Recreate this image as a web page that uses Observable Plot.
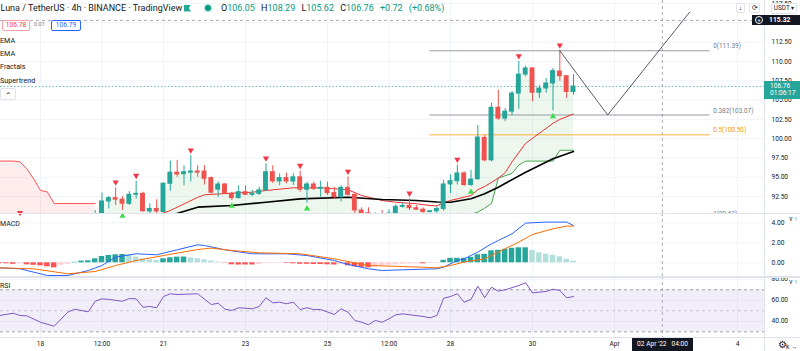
<!DOCTYPE html>
<html><head><meta charset="utf-8">
<script src="https://cdn.jsdelivr.net/npm/d3@7"></script>
<script src="https://cdn.jsdelivr.net/npm/@observablehq/plot@0.6"></script>
<style>
html,body{margin:0;padding:0;background:#fff;overflow:hidden}
#wrap{position:relative;width:800px;height:351px;overflow:hidden;font-family:Roboto,"Noto Sans",sans-serif;color:#131722}
.ov{position:absolute;white-space:nowrap;line-height:1}
.ln{position:absolute;background:#e0e3eb}
</style></head>
<body><div id="wrap"></div>
<script>
// ---------------- DATA ----------------
const candleFirstBar = 8; // bar index (4h bars, 0 = 18 Mar 00:00)
const opens  = [90.0,90.2,91.87,92.3,92.1,91.57,92.73,92.86,90.57,90.9,90.5,94.16,95.6,95.4,95.6,95.75,95.75,94.9,93.4,94.07,92.86,92.3,93.07,92.73,92.86,93.3,95.66,94.46,94.9,94.46,95.0,93.4,94.07,93.5,93.64,92.95,92.43,93.64,92.73,90.7,90.35,90.1,90.25,90.1,90.3,91.17,91.3,91.0,90.8,90.5,90.6,90.9,94.07,94.5,95.5,94.0,94.75,100.1,97.2,104.0,102.6,103.5,105.85,108.3,109.1,105.95,106.5,107.15,108.7,108.1,106.05];
const highs  = [90.7,92.95,92.5,93.64,92.5,93.15,94.5,93.07,91.57,92.08,94.3,97.1,97.2,96.5,97.8,96.5,96.5,95.05,94.4,94.16,93.07,93.9,93.9,93.3,93.72,96.75,96.5,95.45,95.53,95.45,95.8,94.37,94.37,94.5,94.37,93.72,93.9,95.04,92.8,91.05,91.05,90.4,90.7,90.8,91.48,91.65,92.2,91.35,91.05,90.7,91.17,94.6,95.3,96.6,95.7,95.9,101.7,100.4,104.6,106.3,103.9,106.1,110.0,109.4,109.2,106.9,107.8,109.1,111.39,108.1,108.29];
const lows   = [89.6,89.9,90.9,91.35,90.7,91.35,92.2,90.48,90.0,90.27,90.4,93.2,95.0,93.9,94.4,95.0,94.0,92.86,92.4,92.77,92.0,92.2,92.64,92.5,92.64,93.2,94.2,93.9,94.16,93.94,93.07,91.65,93.29,92.42,92.64,92.21,91.8,92.56,90.27,90.0,89.9,89.9,89.9,89.95,90.0,91.0,90.7,90.7,90.35,90.4,90.35,90.6,92.9,94.0,93.8,93.8,94.6,97.0,97.0,102.4,102.2,103.0,103.8,108.0,104.8,105.2,105.9,103.6,107.45,105.2,105.62];
const closes = [90.2,91.87,92.3,92.1,91.57,92.73,92.86,90.6,90.9,90.57,94.16,95.6,95.36,95.66,95.75,95.6,94.8,93.0,94.07,92.86,92.3,93.07,92.73,92.86,93.3,95.66,94.46,94.9,94.46,95.0,93.4,94.07,93.5,93.64,92.95,92.43,93.64,92.73,90.7,90.35,90.1,90.2,90.1,90.3,91.17,91.3,91.0,90.8,90.5,90.6,90.9,94.07,94.5,95.5,94.0,94.7,100.15,97.2,104.0,102.6,103.5,105.85,108.3,109.1,105.95,106.5,107.15,108.75,108.1,106.05,106.76];

const emaFastBars = [12,17,19,21,23,24,28,31,33,37,41,45,47,50,52,55,57,58,59,60,63,64,65,67,68,69,71,73,75,76,78];
const emaFastVals = [88.9,90.05,90.7,91.55,92.4,92.73,92.94,93.07,93.29,93.64,93.64,93.38,92.64,91.99,91.77,91.57,91.35,91.3,91.7,92.0,92.64,93.4,93.8,94.9,95.6,97.0,99.4,100.7,102.0,102.5,103.2];
const emaSlowBars = [13,19,23,28,33,38,45,50,55,58,60,63,65,67,71,75,78];
const emaSlowVals = [89.3,90.05,91.13,91.35,91.77,92.21,92.42,92.12,91.99,91.8,91.77,92.21,92.86,93.72,95.66,97.4,98.34];

const stDownBars = [-6,-5,-4,-3,-2,-1,0,1,2,3,4,5,6,7,8];
const stDownVals = [97.1,97.1,97.1,97.0,96.1,94.8,93.3,93.1,91.6,91.6,91.6,91.6,91.6,91.6,91.6];
const stUpBars = [63,64,65,66,67,68,69,70,71,72,73,74,75,76,77,78];
const stUpVals = [90.2,90.5,91.0,91.6,94.9,95.2,95.5,96.6,97.1,97.1,97.1,97.1,97.1,98.5,98.5,98.5];

const fractalDownBars  = [-3,11,14,22,33,38,45,54,61,70,76];
const fractalDownHighs = [89.7,93.64,94.5,97.8,96.75,95.8,95.04,92.2,96.6,110.0,111.39];
const fractalUpBars = [12,28,39,63,75];
const fractalUpLows = [90.7,92.0,91.65,93.8,103.6];

const fibLevels = [0, 0.382, 0.5, 1];
const fibPrices = [111.39, 103.07, 100.50, 90.62];
const fibStartBar = 57, fibEndBar = 98;

const pathBars = [76, 83, 95];
const pathPrices = [111.39, 103.07, 116.4];

const lastPrice = 106.76, crossPrice = 115.32, crossBar = 91;
const priceTicks = [92.5,95,97.5,100,102.5,105,107.5,110,112.5,115,117.5];
const priceLabelsCovered = [115]; // tick label hidden under the crosshair price tag

const macdHistFirstBar = -6;
const macdHist = [-0.1,-0.1,-0.15,-0.1,-0.2,-0.25,-0.3,-0.4,-0.5,-0.25,-0.15,0.05,0.17,0.2,0.4,0.63,0.73,0.8,0.83,0.8,0.57,0.4,0.3,0.23,0.4,0.5,0.57,0.58,0.5,0.4,0.3,0.17,0.07,-0.03,-0.2,-0.22,-0.22,-0.22,-0.18,-0.08,-0.06,-0.05,-0.06,-0.1,-0.15,-0.15,-0.17,-0.17,-0.2,-0.22,-0.18,-0.3,-0.4,-0.45,-0.5,-0.4,-0.32,-0.25,-0.2,-0.15,-0.12,-0.1,-0.1,-0.07,-0.04,0.25,0.45,0.45,0.45,0.55,0.8,0.85,1.2,1.25,1.35,1.45,1.5,1.5,1.25,1.0,0.85,0.75,0.6,0.35,0.15];
const macdBars = [-6,-3,1,4,7,9,11,14,17,20,23,24,27,31,36,39,43,45,48,50,53,58,59,61,62,64,66,67,69,71,74,77,78];
const macdVals = [-0.5,-0.6,-1.27,-1.27,-0.77,-0.27,0.57,0.9,0.8,1.3,1.8,1.73,1.3,0.9,0.9,0.73,0.23,-0.17,-0.6,-0.77,-0.7,-0.6,-0.43,0.23,0.4,1.07,1.9,2.23,2.9,3.97,4.07,4.07,3.73];
const signalBars = [-6,-1,4,8,11,14,18,23,25,28,32,38,43,48,53,58,60,62,65,67,70,72,75,77,78];
const signalVals = [-0.5,-0.6,-1.1,-0.87,-0.27,0.23,0.73,1.33,1.47,1.23,1.0,0.9,0.4,-0.27,-0.37,-0.5,-0.27,0.07,0.4,1.07,2.07,2.83,3.4,3.67,3.67];
const macdTicks = [0, 2, 4];

const rsiBars = [-6,-4,-3,-2,0,2,4,5,7,8,9,10,12,13,14,15,16,17,18,19,20,23,25,26,27,28,29,31,32,33,34,35,36,37,38,39,40,41,43,44,45,46,47,48,49,50,51,52,53,56,57,58,59,60,61,62,63,64,65,66,67,68,70,71,72,74,75,76,77,78];
const rsiVals = [45.5,47.7,45.5,45.2,39.1,35.3,48.7,51.5,49.0,59.1,61.4,60.8,59.1,61.7,61.4,53.4,54.1,52.9,63.6,66.2,65.5,66.2,56.0,57.2,51.5,50.3,52.9,51.9,54.1,62.4,57.6,58.2,56.7,58.2,51.2,52.9,51.2,51.2,46.5,51.9,48.7,40.8,39.1,36.7,40.8,39.1,42.4,46.2,47.1,44.6,43.3,45.5,62.0,63.6,66.2,58.2,60.8,73.4,62.4,72.5,68.7,70.0,74.1,76.7,67.1,68.4,70.6,69.3,62.4,63.6];
const rsiTicks = [40, 60, 80];
const rsiBands = [70, 50, 30];

const timeTickBars   = [0, 9, 18, 30, 42, 51, 60, 72, 84, 102];
const timeTickLabels = ["18","12:00","21","23","25","12:00","28","30","Apr","4"];

// ---------------- LAYOUT / STYLE ----------------
const wrap = document.getElementById("wrap");
const kDom = [-5.8537, 105.951];
const UP = "#26a69a", DN = "#ef5350", GRID = "#f0f3fa";
const FONT = "Roboto, 'Noto Sans', sans-serif";
const FS = 6.6;
const baseStyle = {fontFamily: FONT, fontSize: FS + "px", color: "#131722", background: "transparent", overflow: "visible"};
const yMain = [90.31, 117.9];

function place(svg, top) {
  svg.style.position = "absolute"; svg.style.left = "0px"; svg.style.top = top + "px";
  wrap.appendChild(svg); return svg;
}
const candles = opens.map((o, i) => ({k: candleFirstBar + i, o, h: highs[i], l: lows[i], c: closes[i]}));
const stUpMap = new Map(stUpBars.map((b, i) => [b, stUpVals[i]]));
const greenFill = candles.map(d => ({k: d.k, top: (d.o + d.c) / 2, bot: stUpMap.has(d.k) ? stUpMap.get(d.k) : yMain[0]}));
const redFill = stDownBars.map((b, i) => ({k: b, top: stDownVals[i], bot: yMain[0]}));
const zipLine = (b, v) => b.map((k, i) => ({k, v: v[i]}));
const fibs = fibLevels.map((l, i) => ({l, p: fibPrices[i]}));
const fibsUpper = fibs.filter(d => d.l < 1), fibsLower = fibs.filter(d => d.l === 1);
const fibColor = d => d.l === 0.5 ? "#ff9800" : "#787b86";
const fibText = d => `${d.l}(${d.p.toFixed(2)})`;
const col = d => d.c >= d.o ? UP : DN;

const main = Plot.plot({
  width: 800, height: 213, marginLeft: 0, marginRight: 36, marginTop: 0, marginBottom: 0,
  x: {domain: kDom, axis: null}, y: {domain: yMain, axis: null},
  style: baseStyle,
  marks: [
    Plot.gridX(timeTickBars, {stroke: GRID, strokeOpacity: 1}),
    Plot.gridY(priceTicks, {stroke: GRID, strokeOpacity: 1}),
    Plot.areaY(redFill, {x: "k", y1: "bot", y2: "top", fill: "#ff5252", fillOpacity: 0.1, clip: true}),
    Plot.areaY(greenFill, {x: "k", y1: "bot", y2: "top", fill: "#4caf50", fillOpacity: 0.1, clip: true}),
    Plot.ruleY([lastPrice], {stroke: UP, strokeDasharray: "1.5,2", strokeOpacity: 0.7}),
    Plot.ruleY([crossPrice], {stroke: "#9598a1", strokeDasharray: "3,3", strokeWidth: 0.8}),
    Plot.ruleX([crossBar], {stroke: "#9598a1", strokeDasharray: "3,3", strokeWidth: 0.8}),
    Plot.ruleY(fibsUpper, {y: "p", x1: fibStartBar, x2: fibEndBar, stroke: fibColor, strokeOpacity: 0.75, clip: true}),
    Plot.text(fibsUpper, {x: fibEndBar + 0.45, y: "p", text: fibText, fill: fibColor, textAnchor: "start", dy: -4.5, fontSize: 6.4, clip: true}),
    Plot.ruleY(fibsLower, {y: "p", x1: fibStartBar, x2: fibEndBar, stroke: fibColor, strokeOpacity: 0.75, dy: 9, clip: true}),
    Plot.text(fibsLower, {x: fibEndBar + 0.45, y: "p", text: fibText, fill: fibColor, textAnchor: "start", dy: 2.5, fontSize: 6.4, clip: true}),
    Plot.line(zipLine(stDownBars, stDownVals), {x: "k", y: "v", stroke: "#ff5252", strokeWidth: 1, clip: true}),
    Plot.line(zipLine(stUpBars, stUpVals), {x: "k", y: "v", stroke: "#43a047", strokeWidth: 1, clip: true}),
    Plot.line(zipLine(emaFastBars, emaFastVals), {x: "k", y: "v", stroke: "#f23030", strokeWidth: 1, clip: true}),
    Plot.line(zipLine(emaSlowBars, emaSlowVals), {x: "k", y: "v", stroke: "#000000", strokeWidth: 1.6, clip: true}),
    Plot.ruleX(candles, {x: "k", y1: "l", y2: "h", stroke: col, strokeWidth: 1, clip: true}),
    Plot.rect(candles, {x1: d => d.k - 0.36, x2: d => d.k + 0.36, y1: "o", y2: "c", fill: col, insetTop: -0.5, insetBottom: -0.5, clip: true}),
    Plot.dot(zipLine(fractalDownBars, fractalDownHighs), {x: "k", y: "v", symbol: "triangle", rotate: 180, r: 2.3, fill: "#f23645", stroke: "none", dy: -5.5}),
    Plot.dot(zipLine(fractalUpBars, fractalUpLows), {x: "k", y: "v", symbol: "triangle", r: 2.3, fill: "#3ddc4a", stroke: "none", dy: 5.5}),
    Plot.line(zipLine(pathBars, pathPrices), {x: "k", y: "v", stroke: "#131722", strokeWidth: 0.7}),
    Plot.axisY(priceTicks.filter(t => !priceLabelsCovered.includes(t)), {anchor: "right", tickSize: 0, tickPadding: 7, tickFormat: d => d.toFixed(2), fill: "#131722"})
  ]
});
place(main, 0);

const histData = macdHist.map((v, i) => ({k: macdHistFirstBar + i, v, prev: i ? macdHist[i - 1] : v}));
const histColor = d => d.v >= 0 ? (d.v >= d.prev ? "#26a69a" : "#b2dfdb") : (d.v <= d.prev ? "#ff5252" : "#ffcdd2");
const macdPane = Plot.plot({
  width: 800, height: 63, marginLeft: 0, marginRight: 36, marginTop: 0, marginBottom: 0,
  x: {domain: kDom, axis: null}, y: {domain: [-1.37, 4.93], axis: null},
  style: baseStyle,
  marks: [
    Plot.gridX(timeTickBars, {stroke: GRID, strokeOpacity: 1}),
    Plot.gridY(macdTicks, {stroke: GRID, strokeOpacity: 1}),
    Plot.rect(histData, {x1: d => d.k - 0.4, x2: d => d.k + 0.4, y1: 0, y2: "v", fill: histColor, clip: true}),
    Plot.line(zipLine(macdBars, macdVals), {x: "k", y: "v", stroke: "#2962ff", strokeWidth: 1, clip: true}),
    Plot.line(zipLine(signalBars, signalVals), {x: "k", y: "v", stroke: "#ff6d00", strokeWidth: 1, clip: true}),
    Plot.ruleX([crossBar], {stroke: "#9598a1", strokeDasharray: "3,3", strokeWidth: 0.8}),
    Plot.axisY(macdTicks, {anchor: "right", tickSize: 0, tickPadding: 7, tickFormat: d => d.toFixed(2), fill: "#131722"})
  ]
});
place(macdPane, 213);

const tickLabelOf = new Map(timeTickBars.map((b, i) => [b, timeTickLabels[i]]));
const rsiPane = Plot.plot({
  width: 800, height: 75, marginLeft: 0, marginRight: 36, marginTop: 0, marginBottom: 14,
  x: {domain: kDom, axis: null}, y: {domain: [24.57, 82.67], axis: null},
  style: baseStyle,
  marks: [
    Plot.gridX(timeTickBars, {stroke: GRID, strokeOpacity: 1}),
    Plot.gridY(rsiTicks, {stroke: GRID, strokeOpacity: 1}),
    Plot.rect([0], {x1: kDom[0], x2: kDom[1], y1: rsiBands[2], y2: rsiBands[0], fill: "#7e57c2", fillOpacity: 0.1}),
    Plot.ruleY(rsiBands, {stroke: "#787b86", strokeDasharray: "3,3", strokeOpacity: d => d === 50 ? 0.35 : 0.7}),
    Plot.line(zipLine(rsiBars, rsiVals), {x: "k", y: "v", stroke: "#7e57c2", strokeWidth: 1, clip: true}),
    Plot.ruleX([crossBar], {stroke: "#9598a1", strokeDasharray: "3,3", strokeWidth: 0.8}),
    Plot.axisY(rsiTicks, {anchor: "right", tickSize: 0, tickPadding: 7, tickFormat: d => d.toFixed(2), fill: "#131722"}),
    Plot.axisX(timeTickBars, {anchor: "bottom", tickSize: 0, tickPadding: 4, tickFormat: d => tickLabelOf.get(d), fill: "#131722"})
  ]
});
place(rsiPane, 276);

// ---------------- OVERLAYS (separators, labels, legend) ----------------
function line(x, y, w, h, bg) { const d = document.createElement("div"); d.className = "ln"; Object.assign(d.style, {left: x + "px", top: y + "px", width: w + "px", height: h + "px"}); if (bg) d.style.background = bg; wrap.appendChild(d); return d; }
function ov(html, x, yc, fs, css) {
  const d = document.createElement("div"); d.className = "ov"; d.innerHTML = html;
  Object.assign(d.style, {left: x + "px", top: (yc - fs / 2) + "px", fontSize: fs + "px", height: fs + "px"}, css || {});
  wrap.appendChild(d); return d;
}
line(0, 213, 800, 1);
line(0, 276, 800, 2);
line(0, 337, 800, 1);
line(764, 0, 1, 351);

const ym = main.scale("y");
// crosshair price tag
const cy = ym.apply(crossPrice);
ov('<span style="display:inline-block;width:6px;height:6px;border:1px solid #fff;border-radius:50%;font-size:6px;line-height:6px;text-align:center;margin-right:6px;vertical-align:middle">+</span><b>' + crossPrice.toFixed(2) + '</b>', 752, cy, 6.8, {background: "#131722", color: "#fff", width: "45px", height: "10.5px", lineHeight: "10.5px", top: (cy - 5.25) + "px", paddingLeft: "3px"});
// last price tag
const ly = ym.apply(lastPrice);
ov(lastPrice.toFixed(2) + '<br>01:06:17', 764, ly + 3.5, 6.6, {background: UP, color: "#fff", lineHeight: "7.6px", top: (ly - 5) + "px", paddingLeft: "6px", paddingTop: "1.5px", boxSizing: "border-box", width: "36px", height: "17.5px"});

// top-right buttons
const btn = {border: "1px solid #e0e3eb", borderRadius: "2px", background: "#fff", textAlign: "center", boxSizing: "border-box", lineHeight: "9px", color: "#131722"};
ov("&#8595;", 736, 8, 7, Object.assign({}, btn, {width: "9px", height: "10px", top: "3px"}));
ov("&#10227;", 749, 8, 7, Object.assign({}, btn, {width: "11px", height: "10px", top: "3px"}));
ov("USDT &#9662;", 771, 8, 6.4, Object.assign({}, btn, {width: "26px", height: "11px", top: "3px", lineHeight: "9.5px"}));

// header legend
ov("Luna / TetherUS · 4h · BINANCE · TradingView", 0.5, 8.3, 9.0);
ov("", 184, 8, 7, {width: "7px", height: "7px", top: "4.5px", background: "#22ab94", clipPath: "polygon(0 0,100% 0,70% 50%,100% 100%,0 100%)"});
ov("", 205, 8, 7, {width: "6px", height: "6px", top: "5px", borderRadius: "50%", background: "#089981", boxShadow: "0 0 0 1.5px #c8ebe5"});
const g = s => `<span style="color:#089981">${s}</span>`;
ov(`O${g("106.05")} H${g("108.29")} L${g("105.62")} C${g("106.76")} ${g("+0.72 (+0.68%)")}`, 221, 8.3, 9, {wordSpacing: "4px"});
const box = c => ({border: `1px solid ${c}`, color: c, borderRadius: "2px", height: "11px", lineHeight: "9px", top: "19.5px", boxSizing: "border-box", textAlign: "center", background: "#fff"});
ov("106.78", 2, 25, 6.6, Object.assign(box("#f7a1a8"), {width: "28px", color: "#f23645"}));
ov("0.01", 34, 25, 5.6, {color: "#787b86"});
ov("106.79", 51, 25, 6.6, Object.assign(box("#2962ff"), {width: "30px", color: "#2962ff"}));
ov("EMA", 0, 40.3, 7.2);
ov("EMA", 0, 53.6, 7.2);
ov("Fractals", 0, 67, 7.2);
ov("Supertrend", 0, 80.3, 7.2);
ov("&#8963;", 0, 94, 8, Object.assign({}, btn, {width: "16px", height: "12px", top: "88px", lineHeight: "13px"}));
ov("MACD", 0, 224.5, 7);
ov("RSI", 0, 286, 7);

// time crosshair tag and settings
ov("02 Apr '22&nbsp;&nbsp;&nbsp;04:00", 632, 344.5, 6.6, {background: "#131722", color: "#fff", width: "61px", height: "13px", lineHeight: "13px", top: "338px", textAlign: "center"});
ov("&#9881;", 778, 344.5, 10, {color: "#131722"});
</script>
</body></html>
